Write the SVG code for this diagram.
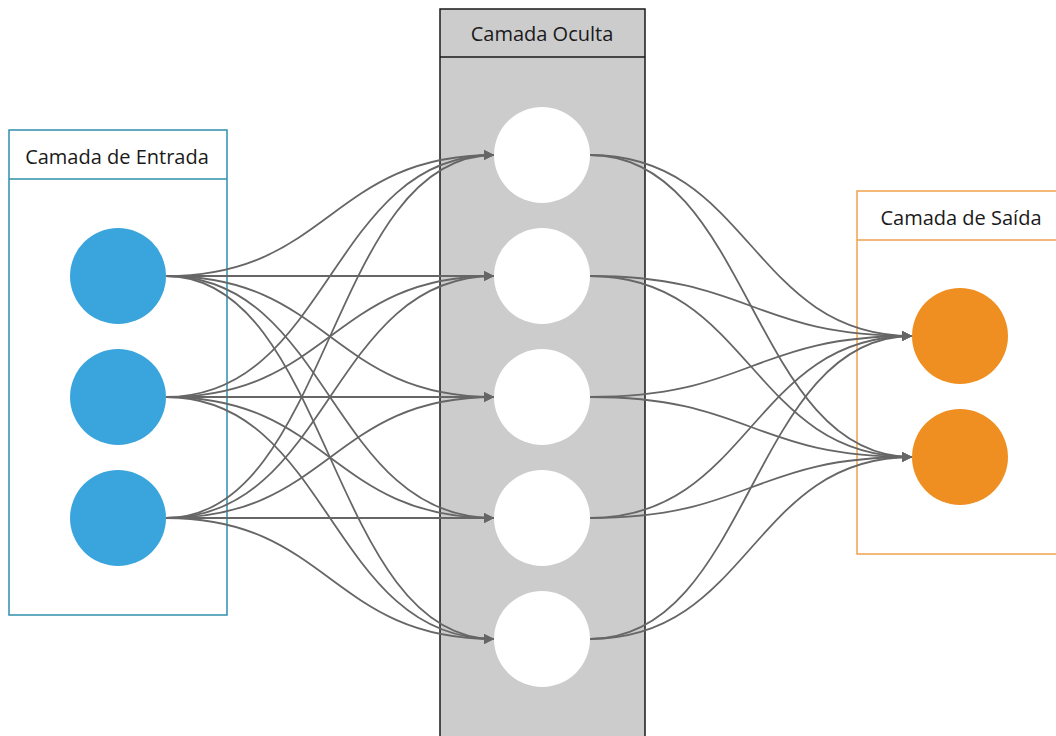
<svg xmlns="http://www.w3.org/2000/svg" width="1056" height="736" viewBox="0 0 1056 736">
<style>
.lbl{font-family:"Open Sans","Liberation Sans",sans-serif;font-size:20px;fill:#1a1a1a;text-anchor:middle}
.e{fill:none;stroke:#666666;stroke-width:1.8}
.in{fill:#3aa5dd}
.hid{fill:#ffffff}
.out{fill:#ef8f22}
</style>
<defs>
<marker id="ah" viewBox="0 0 10 10" refX="10" refY="5" markerWidth="13" markerHeight="10" markerUnits="userSpaceOnUse" orient="auto">
<path d="M0 0 L10 5 L0 10 z" fill="#666666"/>
</marker>
</defs>
<rect width="1056" height="736" fill="#ffffff"/>
<g id="camada-oculta">
<rect x="440" y="9" width="205" height="740" fill="#cccccc" stroke="#1a1a1a" stroke-width="1.5"/>
<line x1="440" y1="57" x2="645" y2="57" stroke="#1a1a1a" stroke-width="1.5"/>
<text class="lbl" x="542" y="41">Camada Oculta</text>
</g>
<g id="camada-entrada">
<rect x="9" y="130" width="218" height="485" fill="none" stroke="#2f8fab" stroke-width="1.5"/>
<line x1="9" y1="179" x2="227" y2="179" stroke="#2f8fab" stroke-width="1.5"/>
<text class="lbl" x="117" y="164">Camada de Entrada</text>
</g>
<g id="camada-saida">
<rect x="857" y="191" width="210" height="363" fill="none" stroke="#f0a24e" stroke-width="1.5"/>
<line x1="857" y1="240" x2="1056" y2="240" stroke="#f0a24e" stroke-width="1.5"/>
<text class="lbl" x="961" y="225">Camada de Saída</text>
</g>
<g id="connectors">
<path class="e" marker-end="url(#ah)" d="M166 276 C330 276 330 155 494 155"/>
<path class="e" marker-end="url(#ah)" d="M166 276 C330 276 330 276 494 276"/>
<path class="e" marker-end="url(#ah)" d="M166 276 C330 276 330 397 494 397"/>
<path class="e" marker-end="url(#ah)" d="M166 276 C330 276 330 518 494 518"/>
<path class="e" marker-end="url(#ah)" d="M166 276 C330 276 330 639 494 639"/>
<path class="e" marker-end="url(#ah)" d="M166 397 C330 397 330 155 494 155"/>
<path class="e" marker-end="url(#ah)" d="M166 397 C330 397 330 276 494 276"/>
<path class="e" marker-end="url(#ah)" d="M166 397 C330 397 330 397 494 397"/>
<path class="e" marker-end="url(#ah)" d="M166 397 C330 397 330 518 494 518"/>
<path class="e" marker-end="url(#ah)" d="M166 397 C330 397 330 639 494 639"/>
<path class="e" marker-end="url(#ah)" d="M166 518 C330 518 330 155 494 155"/>
<path class="e" marker-end="url(#ah)" d="M166 518 C330 518 330 276 494 276"/>
<path class="e" marker-end="url(#ah)" d="M166 518 C330 518 330 397 494 397"/>
<path class="e" marker-end="url(#ah)" d="M166 518 C330 518 330 518 494 518"/>
<path class="e" marker-end="url(#ah)" d="M166 518 C330 518 330 639 494 639"/>
<path class="e" marker-end="url(#ah)" d="M590 155 C751 155 751 336 912 336"/>
<path class="e" marker-end="url(#ah)" d="M590 155 C751 155 751 457 912 457"/>
<path class="e" marker-end="url(#ah)" d="M590 276 C751 276 751 336 912 336"/>
<path class="e" marker-end="url(#ah)" d="M590 276 C751 276 751 457 912 457"/>
<path class="e" marker-end="url(#ah)" d="M590 397 C751 397 751 336 912 336"/>
<path class="e" marker-end="url(#ah)" d="M590 397 C751 397 751 457 912 457"/>
<path class="e" marker-end="url(#ah)" d="M590 518 C751 518 751 336 912 336"/>
<path class="e" marker-end="url(#ah)" d="M590 518 C751 518 751 457 912 457"/>
<path class="e" marker-end="url(#ah)" d="M590 639 C751 639 751 336 912 336"/>
<path class="e" marker-end="url(#ah)" d="M590 639 C751 639 751 457 912 457"/>
</g>
<g id="entrada-1"><circle class="in" cx="118" cy="276" r="48"/></g>
<g id="entrada-2"><circle class="in" cx="118" cy="397" r="48"/></g>
<g id="entrada-3"><circle class="in" cx="118" cy="518" r="48"/></g>
<g id="oculta-1"><circle class="hid" cx="542" cy="155" r="48"/></g>
<g id="oculta-2"><circle class="hid" cx="542" cy="276" r="48"/></g>
<g id="oculta-3"><circle class="hid" cx="542" cy="397" r="48"/></g>
<g id="oculta-4"><circle class="hid" cx="542" cy="518" r="48"/></g>
<g id="oculta-5"><circle class="hid" cx="542" cy="639" r="48"/></g>
<g id="saida-1"><circle class="out" cx="960" cy="336" r="48"/></g>
<g id="saida-2"><circle class="out" cx="960" cy="457" r="48"/></g>
</svg>
